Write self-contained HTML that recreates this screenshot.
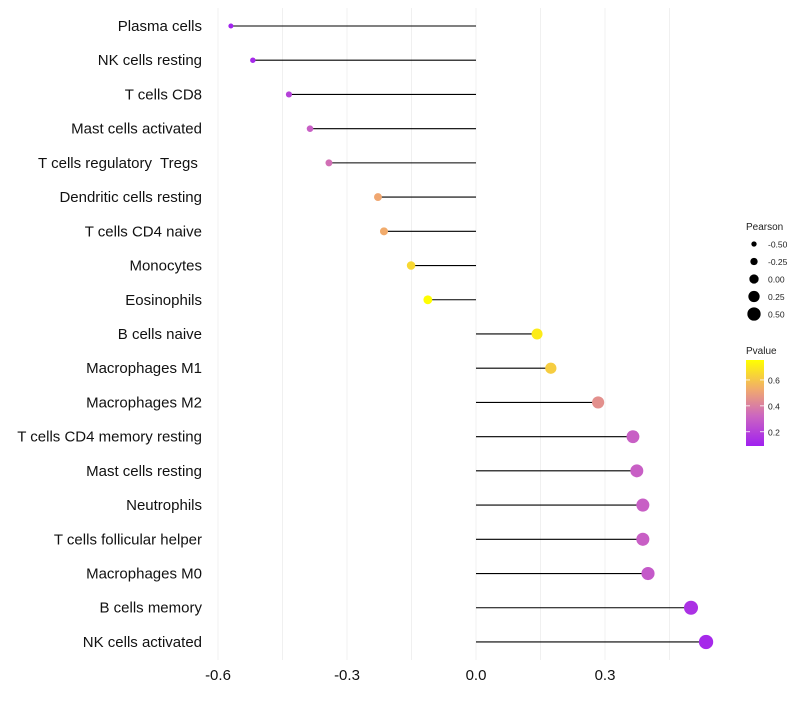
<!DOCTYPE html>
<html><head><meta charset="utf-8"><style>
body{margin:0;background:#fff;font-family:"Liberation Sans",sans-serif}
</style></head><body>
<svg id="chart" width="800" height="700" xmlns="http://www.w3.org/2000/svg"></svg>
<script>
const categories=["Plasma cells","NK cells resting","T cells CD8","Mast cells activated","T cells regulatory  Tregs ","Dendritic cells resting","T cells CD4 naive","Monocytes","Eosinophils","B cells naive","Macrophages M1","Macrophages M2","T cells CD4 memory resting","Mast cells resting","Neutrophils","T cells follicular helper","Macrophages M0","B cells memory","NK cells activated"];
const pearson=[-0.570,-0.519,-0.435,-0.386,-0.342,-0.228,-0.214,-0.151,-0.112,0.142,0.174,0.284,0.365,0.374,0.388,0.388,0.400,0.500,0.535];
const pvalues=[0.10,0.12,0.20,0.30,0.35,0.52,0.53,0.65,0.75,0.70,0.62,0.45,0.30,0.30,0.30,0.30,0.28,0.15,0.12];
const xTicks=[-0.6,-0.3,0.0,0.3];
const xTickLabels=["-0.6","-0.3","0.0","0.3"];
const sizeLegend=[-0.5,-0.25,0,0.25,0.5];
const sizeLegendLabels=["-0.50","-0.25","0.00","0.25","0.50"];
const pTicks=[0.6,0.4,0.2];
const pMin=0.09,pMax=0.754;

const svg=document.getElementById('chart');
const NS="http://www.w3.org/2000/svg";
function mk(tag,attrs,parent){const e=document.createElementNS(NS,tag);for(const k in attrs)e.setAttribute(k,attrs[k]);(parent||svg).appendChild(e);return e;}
const xs=v=>476+v*430;
const ys=i=>26+i*34.22;
const rs=p=>4.9+4.2*p;
const stops=[[0,[160,32,240]],[0.35,[204,102,192]],[0.65,[240,168,112]],[1,[255,255,0]]];
function col(p){let t=Math.max(0,Math.min(1,(p-pMin)/(pMax-pMin)));for(let k=1;k<stops.length;k++){if(t<=stops[k][0]){const a=stops[k-1],b=stops[k];const u=(t-a[0])/(b[0]-a[0]);const c=a[1].map((v,j)=>Math.round(v+(b[1][j]-v)*u));return `rgb(${c})`;}}return 'rgb(255,255,0)';}

for(let v=-0.6;v<=0.46;v+=0.15){
  const g=mk('line',{x1:xs(v),x2:xs(v),y1:8,y2:660,stroke:'#f0f0f0','stroke-width':1});
  
  
}
xTicks.forEach((v,i)=>{
  const t=mk('text',{x:xs(v),y:680,'text-anchor':'middle','font-size':15,fill:'#111'});
  t.textContent=xTickLabels[i];
  
  
});
categories.forEach((c,i)=>{
  const y=ys(i);
  const t=mk('text',{x:202,y:y+5,'text-anchor':'end','font-size':15,fill:'#111','xml:space':'preserve'});
  t.style.whiteSpace='pre';
  t.textContent=c;
  
  
  const l=mk('line',{x1:xs(0),x2:xs(pearson[i]),y1:y,y2:y,stroke:'#000','stroke-width':1.1});
  
  
  const d=mk('circle',{cx:xs(pearson[i]),cy:y,r:rs(pearson[i]),fill:col(pvalues[i])});
  
  
});
const st=mk('text',{x:746,y:230,'font-size':10,fill:'#222'});st.textContent='Pearson';


sizeLegend.forEach((v,i)=>{
  const y=244+i*17.5;
  const c=mk('circle',{cx:754,cy:y,r:rs(v)*0.95,fill:'#000'});
  
  
  const t=mk('text',{x:768,y:y+3.5,'font-size':8.5,fill:'#222'});t.textContent=sizeLegendLabels[i];
  
  
});
const pt=mk('text',{x:746,y:354,'font-size':10,fill:'#222'});pt.textContent='Pvalue';


const defs=mk('defs',{});
const lg=mk('linearGradient',{id:'pg',x1:0,y1:1,x2:0,y2:0},defs);
stops.forEach(s=>mk('stop',{offset:s[0],'stop-color':`rgb(${s[1]})`},lg));
const cb=mk('rect',{x:746,y:360,width:18,height:86,fill:'url(#pg)'});


pTicks.forEach(v=>{
  const y=446-(v-pMin)/(pMax-pMin)*86;
  mk('line',{x1:746,x2:750,y1:y,y2:y,stroke:'#fff','stroke-width':0.8});
  mk('line',{x1:760,x2:764,y1:y,y2:y,stroke:'#fff','stroke-width':0.8});
  const t=mk('text',{x:768,y:y+3.5,'font-size':8.5,fill:'#222'});t.textContent=v.toFixed(1);
  
  
});
</script>
</body></html>
